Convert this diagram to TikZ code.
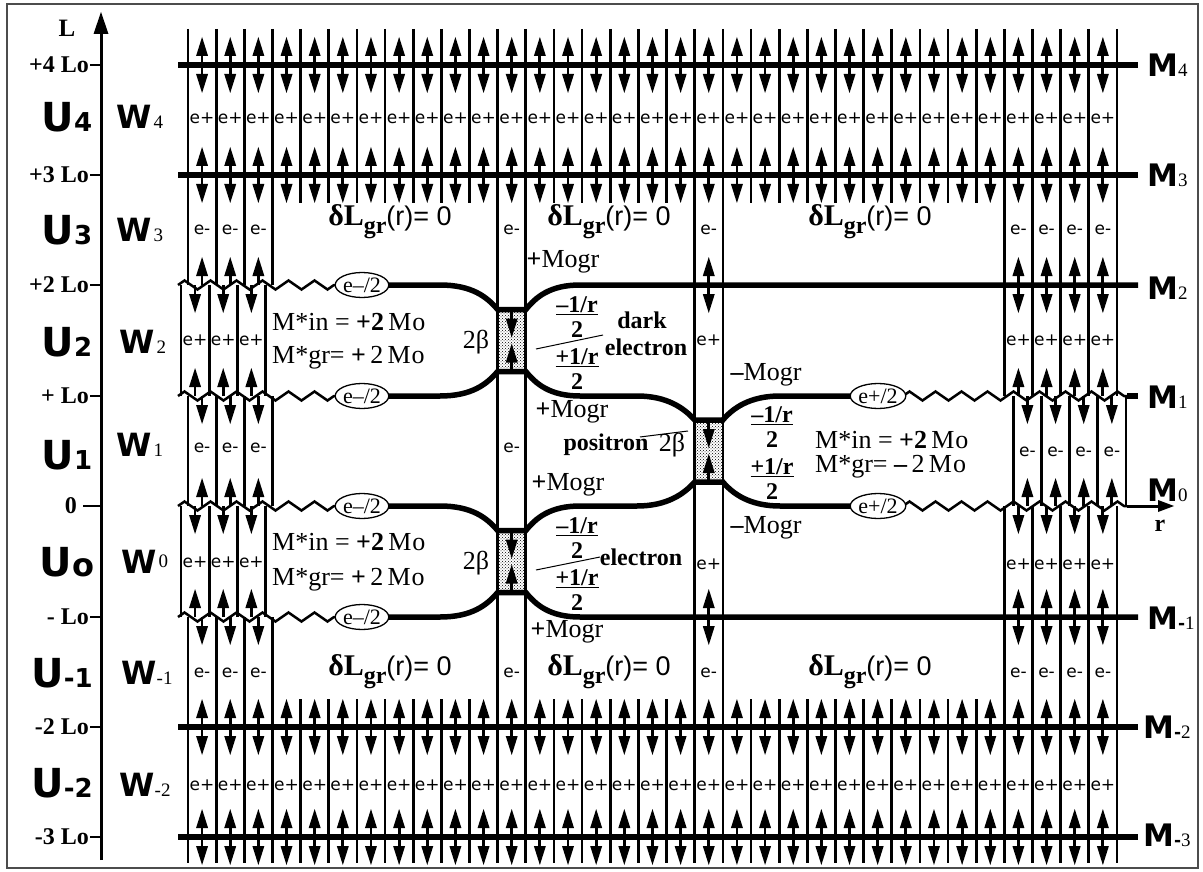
\documentclass[tikz,border=0pt]{standalone}
\usepackage{fontspec}
\setmainfont{Liberation Serif}
\newfontfamily\heavy{DejaVu Sans}
\newfontfamily\plainsans{Liberation Sans}
\usetikzlibrary{patterns,shapes.geometric,decorations.pathmorphing}
\def\fs#1{\fontsize{#1}{#1}\selectfont}
\def\colx#1{188+28.15*#1}
\def\cenx#1{202.07+28.15*#1}
% arrow with a filled head: up or down from the line at (x,y)
\def\uparr(#1,#2){\draw[shaft] (#1,#2) -- ++(0,-14); \fill (#1,#2) ++(0,-28) -- ++(-6,19) -- ++(12,0) -- cycle;}
\def\dnarr(#1,#2){\draw[shaft] (#1,#2) -- ++(0,14); \fill (#1,#2) ++(0,28) -- ++(-6,-19) -- ++(12,0) -- cycle;}
\def\dlg{{\bfseries\fs{30}δL}\raisebox{-8pt}{\bfseries\fs{24}gr}{\plainsans\fs{27}(r)= 0}}
\def\fracpair#1#2#3{%
  \node[frac] (#1a) at (#2,#3-35) {\underline{–1/r}};
  \node[frac] (#1b) at (#2,#3-11) {2};
  \node[frac] (#1c) at (#2,#3+17) {\underline{+1/r}};
  \node[frac] (#1d) at (#2,#3+41) {2};}

\begin{document}
\begin{tikzpicture}[x=1pt,y=-1pt,
  grid/.style={line width=2.7pt},
  mline/.style={line width=5.5pt},
  zz/.style={line width=2.5pt,decorate,decoration={zigzag,segment length=26pt,amplitude=4.5pt}},
  shaft/.style={line width=2.8pt},
  cell/.style={font=\heavy\fs{17},inner sep=0pt},
  half/.style={draw,ellipse,line width=1.3pt,fill=white,minimum width=50pt,minimum height=25pt,inner sep=0pt,font=\fs{22}},
  lev/.style={anchor=east,font=\bfseries\fs{24},inner sep=0pt},
  txt/.style={font=\fs{26},inner sep=0pt},
  word/.style={font=\bfseries\fs{24},inner sep=0pt},
  frac/.style={font=\bfseries\fs{24},inner sep=0pt}]
  %%%%% START %%%%%
  \useasboundingbox (0,0) rectangle (1203,872);
  \draw[line width=2pt,black!70] (7,4) rectangle (1198,868);

  % axis
  \draw[line width=3pt] (101,860) -- (101,30);
  \fill (101,12) -- (93.5,34) -- (108.5,34) -- cycle;
  \node[font=\bfseries\fs{25},inner sep=0pt] (lab) at (67,28) {L};
  \foreach \lev in {65,175,285,396,617,727,837}{\draw[line width=1.5pt] (90,\lev) -- (101,\lev);}
  \draw[line width=1.5pt] (83,506) -- (101,506);
  \node[lev] (l4) at (89,65) {+4 Lo};
  \node[lev] (l3) at (89,175) {+3 Lo};
  \node[lev] (l2) at (89,285) {+2 Lo};
  \node[lev] (l1) at (89,396) {+ Lo};
  \node[lev] (l0) at (77,506) {0};
  \node[lev] (lm1) at (89,617) {- Lo};
  \node[lev] (lm2) at (89,727) {-2 Lo};
  \node[lev] (lm3) at (89,837) {-3 Lo};

  % U and W
  \node[inner sep=0pt] (u4) at (67,117) {{\heavy\bfseries\fs{40}U}{\heavy\bfseries\fs{26}4}};
  \node[inner sep=0pt] (u3) at (67,230) {{\heavy\bfseries\fs{40}U}{\heavy\bfseries\fs{26}3}};
  \node[inner sep=0pt] (u2) at (67,342) {{\heavy\bfseries\fs{40}U}{\heavy\bfseries\fs{26}2}};
  \node[inner sep=0pt] (u1) at (67,455) {{\heavy\bfseries\fs{40}U}{\heavy\bfseries\fs{26}1}};
  \node[inner sep=0pt] (u0) at (67,562) {{\heavy\bfseries\fs{40}U}{\heavy\bfseries\fs{32}o}};
  \node[inner sep=0pt] (um1) at (62,673) {{\heavy\bfseries\fs{40}U}{\heavy\bfseries\fs{26}-1}};
  \node[inner sep=0pt] (um2) at (62,783) {{\heavy\bfseries\fs{40}U}{\heavy\bfseries\fs{26}-2}};
  \node[inner sep=0pt] (w4) at (140,117) {{\heavy\bfseries\fs{32}W}\,{\fs{19}4}};
  \node[inner sep=0pt] (w3) at (140,230) {{\heavy\bfseries\fs{32}W}\,{\fs{19}3}};
  \node[inner sep=0pt] (w2) at (143,342) {{\heavy\bfseries\fs{32}W}\,{\fs{19}2}};
  \node[inner sep=0pt] (w1) at (140,445) {{\heavy\bfseries\fs{32}W}\,{\fs{19}1}};
  \node[inner sep=0pt] (w0) at (145,562) {{\heavy\bfseries\fs{32}W}\,\raisebox{6pt}{\fs{19}0}};
  \node[inner sep=0pt] (wm1) at (147,673) {{\heavy\bfseries\fs{32}W}{\fs{19}-1}};
  \node[inner sep=0pt] (wm2) at (145,785) {{\heavy\bfseries\fs{32}W}{\fs{19}-2}};

  % 2 beta boxes
  \fill[pattern=crosshatch dots] (\colx{11},309.5) rectangle (\colx{12},371.5);
  \fill[pattern=crosshatch dots] (\colx{18},420) rectangle (\colx{19},482);
  \fill[pattern=crosshatch dots] (\colx{11},530.5) rectangle (\colx{12},592.5);

  % vertical lines
  \foreach \i in {0,...,33}{
    \draw[grid] (\colx{\i},29) -- (\colx{\i},203);
    \draw[grid] (\colx{\i},699) -- (\colx{\i},863);
  }
  \foreach \i in {11,12,18,19}{\draw[grid] (\colx{\i},203) -- (\colx{\i},699);}
  \foreach \i in {0,...,3}{
    \draw[grid] (\colx{\i},203) -- (\colx{\i},285);
    \draw[grid] (\colx{\i}-7,285) -- (\colx{\i}-7,396);
    \draw[grid] (\colx{\i},396) -- (\colx{\i},506);
    \draw[grid] (\colx{\i}-7,506) -- (\colx{\i}-7,617);
    \draw[grid] (\colx{\i},617) -- (\colx{\i},699);
  }
  \foreach \i in {29,...,33}{
    \draw[grid] (\colx{\i},203) -- (\colx{\i},396);
    \draw[grid] (\colx{\i}+9,396) -- (\colx{\i}+9,506);
    \draw[grid] (\colx{\i},506) -- (\colx{\i},699);
  }

  % straight M lines
  \foreach \lev in {65,175,727,837}{\draw[mline] (178,\lev) -- (1138,\lev);}

  % zigzag parts
  \foreach \lev in {285,396,506,617}{\draw[zz] (178,\lev) -- (338,\lev);}
  \draw[zz] (903,396) -- (1127,396);
  \draw[zz] (903,506) -- (1127,506);
  \draw[mline] (1127,396) -- (1138,396);
  \draw[line width=3pt] (1127,506) -- (1160,506);
  \fill (1174,506) -- (1158,500) -- (1158,512) -- cycle;

  % curved M lines
  \draw[mline] (387,285) -- (440,285) .. controls (472,285) and (487,297) .. (\colx{11},309.5)
    -- (\colx{12},309.5) .. controls (536,297) and (550,285) .. (580,285) -- (1138,285);
  \draw[mline] (387,396) -- (440,396) .. controls (472,396) and (487,384) .. (\colx{11},371.5)
    -- (\colx{12},371.5) .. controls (536,384) and (550,396) .. (580,396) -- (637,396)
    .. controls (667,396) and (684,408) .. (\colx{18},420) -- (\colx{19},420)
    .. controls (733,408) and (750,396) .. (780,396) -- (853,396);
  \draw[mline] (387,506) -- (440,506) .. controls (472,506) and (487,518) .. (\colx{11},530.5)
    -- (\colx{12},530.5) .. controls (536,518) and (550,506) .. (580,506) -- (637,506)
    .. controls (667,506) and (684,494) .. (\colx{18},482) -- (\colx{19},482)
    .. controls (733,494) and (750,506) .. (780,506) -- (853,506);
  \draw[mline] (387,617) -- (440,617) .. controls (472,617) and (487,605) .. (\colx{11},592.5)
    -- (\colx{12},592.5) .. controls (536,605) and (550,617) .. (580,617) -- (1138,617);

  % arrows
  \foreach \lev in {65,175,727,837}{
    \foreach \i in {0,...,32}{\uparr(\cenx{\i},\lev) \dnarr(\cenx{\i},\lev)}
  }
  \foreach \i in {0,1,2}{
    \uparr(\cenx{\i},285) \dnarr(\cenx{\i}-7,285)
    \uparr(\cenx{\i}-7,396) \dnarr(\cenx{\i},396)
    \uparr(\cenx{\i},506) \dnarr(\cenx{\i}-7,506)
    \uparr(\cenx{\i}-7,617) \dnarr(\cenx{\i},617)
  }
  \foreach \i in {29,...,32}{
    \uparr(\cenx{\i},396) \dnarr(\cenx{\i}+9,396)
    \uparr(\cenx{\i}+9,506) \dnarr(\cenx{\i},506)
  }
  \foreach \i in {18,29,30,31,32}{
    \uparr(\cenx{\i},285) \dnarr(\cenx{\i},285)
    \uparr(\cenx{\i},617) \dnarr(\cenx{\i},617)
  }
  % inside the boxes
  \dnarr(\cenx{11},309.5) \uparr(\cenx{11},371.5)
  \dnarr(\cenx{18},420) \uparr(\cenx{18},482)
  \dnarr(\cenx{11},530.5) \uparr(\cenx{11},592.5)

  % cell charges
  \foreach \i in {0,...,32}{
    \node[cell] (pa\i) at (\cenx{\i},118) {e+};
    \node[cell] (pb\i) at (\cenx{\i},785) {e+};
  }
  \foreach \i in {0,1,2,11,18,29,30,31,32}{
    \node[cell] (ea\i) at (\cenx{\i},230) {e-};
    \node[cell] (eb\i) at (\cenx{\i},673) {e-};
  }
  \foreach \i in {0,1,2}{
    \node[cell] (pc\i) at (\cenx{\i}-7,340) {e+};
    \node[cell] (pd\i) at (\cenx{\i}-7,562) {e+};
  }
  \foreach \i in {18,29,30,31,32}{
    \node[cell] (pe\i) at (\cenx{\i},340) {e+};
    \node[cell] (pf\i) at (\cenx{\i},564) {e+};
  }
  \foreach \i in {0,1,2,11}{\node[cell] (ec\i) at (\cenx{\i},448) {e-};}
  \foreach \i in {29,...,32}{\node[cell] (ed\i) at (\cenx{\i}+9,452) {e-};}

  % halves
  \node[half] (emTwo) at (362,285) {e–/2};
  \node[half] (emOne) at (362,396) {e–/2};
  \node[half] (emZero) at (362,506) {e–/2};
  \node[half] (emMinus) at (362,617) {e–/2};
  \node[half] (epOne) at (878,396) {e+/2};
  \node[half] (epZero) at (878,506) {e+/2};

  % delta L
  \node[inner sep=0pt] (dla) at (390,222) {\dlg};
  \node[inner sep=0pt] (dlb) at (609,222) {\dlg};
  \node[inner sep=0pt] (dlc) at (870,222) {\dlg};
  \node[inner sep=0pt] (dld) at (390,672) {\dlg};
  \node[inner sep=0pt] (dle) at (609,672) {\dlg};
  \node[inner sep=0pt] (dlf) at (870,672) {\dlg};

  % masses
  \node[txt,anchor=west] (inA) at (272,322) {M*in = \textbf{+2}\,M\kern1pt o};
  \node[txt,anchor=west] (grA) at (272,358) {M*gr= \textbf{+}\,2\,M\kern1pt o};
  \node[txt,anchor=west] (inB) at (272,542) {M*in = \textbf{+2}\,M\kern1pt o};
  \node[txt,anchor=west] (grB) at (272,580) {M*gr= \textbf{+}\,2\,M\kern1pt o};
  \node[txt,anchor=west] (inC) at (815,440) {M*in = \textbf{+2}\,M\kern1pt o};
  \node[txt,anchor=west] (grC) at (815,467) {M*gr= \textbf{–}\,2\,M\kern1pt o};
  \node[txt] (bA) at (476,342) {2β};
  \node[txt] (bB) at (476,563) {2β};
  \node[txt] (bC) at (672,445) {2β};
  \node[txt] (mgA) at (563,262) {\textbf{+}Mogr};
  \node[txt] (mgB) at (572,412) {\textbf{+}Mogr};
  \node[txt] (mgC) at (568,485) {\textbf{+}Mogr};
  \node[txt] (mgD) at (567,632) {\textbf{+}Mogr};
  \node[txt] (mgE) at (766,375) {\textbf{–}Mogr};
  \node[txt] (mgF) at (766,528) {\textbf{–}Mogr};

  % fractions
  \fracpair{fA}{577}{340.5}
  \fracpair{fB}{577}{561.5}
  \fracpair{fC}{772}{451}
  \draw[line width=1pt] (536,349) -- (603,335);
  \draw[line width=1pt] (536,570) -- (600,557);
  \draw[line width=1pt] (640,437) -- (688,431);
  \node[word] (dark) at (642,320) {dark};
  \node[word] (elA) at (646,347) {electron};
  \node[word] (elB) at (641,557) {electron};
  \node[word] (pos) at (606,445) {positron};

  % M labels
  \node[anchor=west,inner sep=0pt] (m4) at (1147,65) {{\heavy\bfseries\fs{31}M}{\fs{19}4}};
  \node[anchor=west,inner sep=0pt] (m3) at (1147,175) {{\heavy\bfseries\fs{31}M}{\fs{19}3}};
  \node[anchor=west,inner sep=0pt] (m2) at (1147,288) {{\heavy\bfseries\fs{31}M}{\fs{19}2}};
  \node[anchor=west,inner sep=0pt] (m1) at (1147,397) {{\heavy\bfseries\fs{31}M}{\fs{19}1}};
  \node[anchor=west,inner sep=0pt] (m0) at (1147,490) {{\heavy\bfseries\fs{31}M}{\fs{19}0}};
  \node[anchor=west,inner sep=0pt] (mm1) at (1147,618) {{\heavy\bfseries\fs{31}M}{\heavy\bfseries\fs{17}-}{\fs{19}1}};
  \node[anchor=west,inner sep=0pt] (mm2) at (1143,727) {{\heavy\bfseries\fs{31}M}{\heavy\bfseries\fs{17}-}{\fs{19}2}};
  \node[anchor=west,inner sep=0pt] (mm3) at (1143,835) {{\heavy\bfseries\fs{31}M}{\heavy\bfseries\fs{17}-}{\fs{19}3}};
  \node[font=\bfseries\fs{24},inner sep=0pt] (rr) at (1160,526) {r};
  %%%%% END %%%%%
\end{tikzpicture}
\end{document}
